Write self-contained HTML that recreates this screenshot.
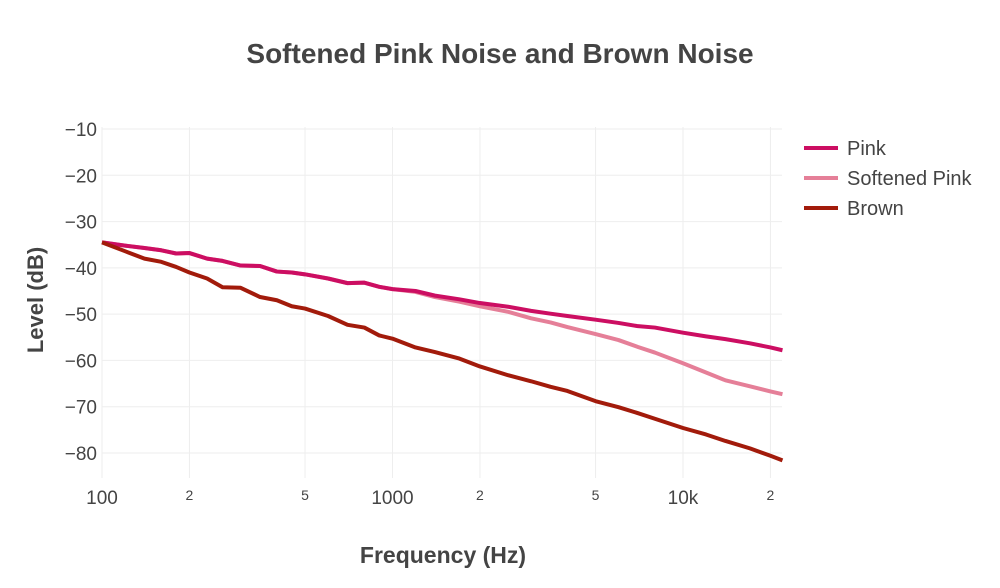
<!DOCTYPE html>
<html><head><meta charset="utf-8"><style>
body{margin:0;background:#fff;font-family:"Liberation Sans",sans-serif}
svg text{font-family:"Liberation Sans",sans-serif;fill:#444}
</style></head><body>
<svg width="1000" height="583">
<text x="500" y="63" text-anchor="middle" font-size="28" font-weight="bold">Softened Pink Noise and Brown Noise</text>
<g id="grid"></g>
<g id="ticks"></g>
<g id="series"></g>
<text x="443" y="563" text-anchor="middle" font-size="23" font-weight="bold">Frequency (Hz)</text>
<text transform="translate(43,300) rotate(-90)" text-anchor="middle" font-size="22" font-weight="bold">Level (dB)</text>
<g>
<g><line x1="804" x2="838" y1="148" y2="148" stroke="#cc0e62" stroke-width="4"/><text x="847" y="155" font-size="20">Pink</text></g>
<g><line x1="804" x2="838" y1="178" y2="178" stroke="#e57f98" stroke-width="4"/><text x="847" y="185" font-size="20">Softened Pink</text></g>
<g><line x1="804" x2="838" y1="208" y2="208" stroke="#a21b0b" stroke-width="4"/><text x="847" y="215" font-size="20">Brown</text></g>
</g>
</svg>
<script>
const freqs=[100,120,140,160,180,200,230,260,300,350,400,450,500,600,700,800,900,1000,1200,1400,1700,2000,2500,3000,3500,4000,5000,6000,7000,8000,10000,12000,14000,17000,20000,22000];
const pink=[-34.5,-35.2,-35.7,-36.2,-36.9,-36.8,-38.0,-38.5,-39.5,-39.6,-40.8,-41.0,-41.4,-42.3,-43.3,-43.2,-44.1,-44.6,-45.0,-46.0,-46.8,-47.6,-48.4,-49.3,-49.9,-50.4,-51.2,-51.9,-52.6,-52.9,-54.0,-54.8,-55.4,-56.3,-57.2,-57.8];
const soft=[-34.5,-35.2,-35.7,-36.2,-36.9,-36.8,-38.0,-38.5,-39.5,-39.6,-40.8,-41.0,-41.4,-42.3,-43.3,-43.2,-44.1,-44.6,-45.2,-46.3,-47.3,-48.3,-49.5,-50.9,-51.8,-52.8,-54.3,-55.6,-57.1,-58.3,-60.6,-62.6,-64.3,-65.6,-66.7,-67.3];
const brown=[-34.5,-36.4,-38.0,-38.7,-39.8,-41.0,-42.3,-44.2,-44.3,-46.3,-47.0,-48.3,-48.8,-50.4,-52.3,-52.9,-54.6,-55.3,-57.2,-58.2,-59.6,-61.3,-63.2,-64.5,-65.7,-66.6,-68.8,-70.1,-71.4,-72.6,-74.6,-76.0,-77.4,-79.0,-80.6,-81.6];
const yTicks=[-10,-20,-30,-40,-50,-60,-70,-80];
const xMajor=[100,1000,10000], xMajorLabels=["100","1000","10k"];
const xMinor=[200,500,2000,5000,20000], xMinorLabels=["2","5","2","5","2"];
const X=f=>102+290.5*(Math.log10(f)-2);
function Yv(v){return 129+(-10-v)*324/70;}
const ns="http://www.w3.org/2000/svg";
function mk(t,a,p){const e=document.createElementNS(ns,t);for(const k in a)e.setAttribute(k,a[k]);p.appendChild(e);return e;}
const grid=document.getElementById('grid'),ticks=document.getElementById('ticks'),ser=document.getElementById('series');
yTicks.forEach(v=>{
 const l=mk('line',{x1:102,x2:782,y1:Yv(v),y2:Yv(v),stroke:'#eee','stroke-width':1},grid);
 
 
 const t=mk('text',{x:97,y:Yv(v)+7,'text-anchor':'end','font-size':19},ticks);t.textContent='\u2212'+Math.abs(v);
 
 
});
xMajor.concat(xMinor).forEach(f=>{
 const l=mk('line',{x1:X(f),x2:X(f),y1:127,y2:478,stroke:'#eee','stroke-width':1},grid);
 
 
});
xMajor.forEach((f,i)=>{const t=mk('text',{x:X(f),y:504,'text-anchor':'middle','font-size':19},ticks);t.textContent=xMajorLabels[i];
 
 });
xMinor.forEach((f,i)=>{const t=mk('text',{x:X(f),y:500,'text-anchor':'middle','font-size':14},ticks);t.textContent=xMinorLabels[i];
 
 });
[[soft,'#e57f98','softened-pink-line'],[pink,'#cc0e62','pink-line'],[brown,'#a21b0b','brown-line']].forEach(([d,c,n])=>{
 const p=mk('polyline',{points:freqs.map((f,i)=>X(f)+','+Yv(d[i])).join(' '),fill:'none',stroke:c,'stroke-width':4,'stroke-linejoin':'round'},ser);
 
 
});
</script>
</body></html>
